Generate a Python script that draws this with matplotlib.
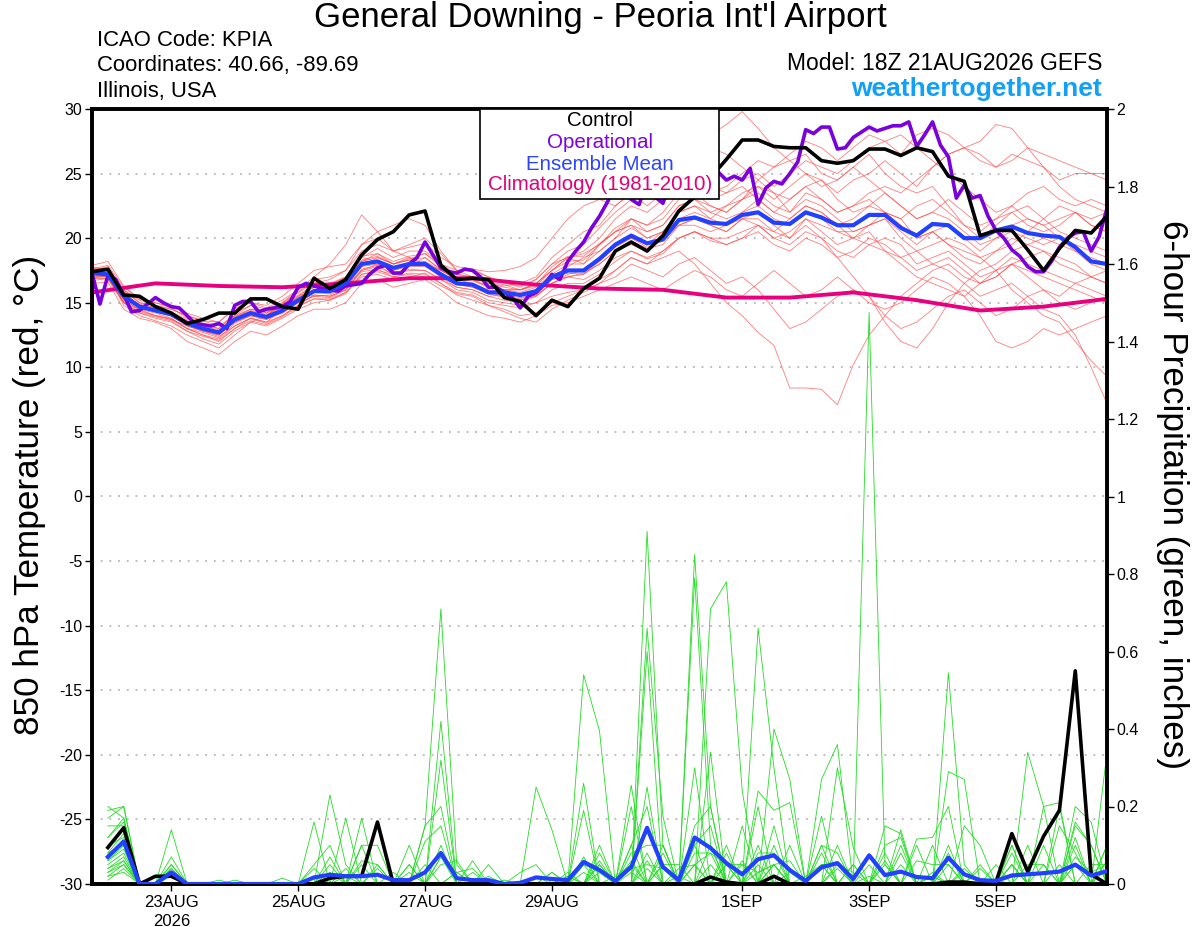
import numpy as np
import matplotlib
matplotlib.use('Agg')
import matplotlib.pyplot as plt
from matplotlib.patches import Rectangle

plt.rcParams['font.family'] = ['Liberation Sans', 'DejaVu Sans']
plt.rcParams['axes.unicode_minus'] = False

# ---------------- data ----------------
run_start = '2026-08-21T18:00'
tick_dates = ['2026-08-23', '2026-08-25', '2026-08-27', '2026-08-29',
              '2026-09-01', '2026-09-03', '2026-09-05']
tick_labels = ['23AUG\n2026', '25AUG', '27AUG', '29AUG', '1SEP', '3SEP', '5SEP']

control_temp = [
    17.4, 17.6, 15.6, 15.5, 14.7, 14.2, 13.4, 13.7, 14.2, 14.2,
    15.3, 15.3, 14.7, 14.5, 16.9, 16.1, 16.8, 18.7, 19.9, 20.5,
    21.8, 22.1, 17.9, 16.8, 16.9, 16.8, 15.4, 15.1, 14.0, 15.2,
    14.7, 16.1, 16.9, 19.0, 19.7, 19.0, 20.2, 22.1, 23.2, 24.7,
    26.1, 27.6, 27.6, 27.1, 27.0, 27.0, 26.0, 25.8, 26.0, 26.9,
    26.9, 26.4, 27.0, 26.7, 24.8, 24.4, 20.2, 20.6, 20.6, 19.1,
    17.5, 19.2, 20.6, 20.4, 21.7]

mean_temp = [
    17.3, 17.2, 15.5, 14.7, 14.4, 14.1, 13.4, 13.0, 12.7, 13.7,
    14.2, 13.9, 14.4, 15.2, 15.9, 15.9, 16.5, 18.0, 18.2, 17.7,
    18.0, 18.0, 17.2, 16.5, 16.4, 15.8, 15.8, 15.6, 15.9, 17.0,
    17.5, 17.5, 18.4, 19.5, 20.2, 19.6, 19.9, 21.4, 21.6, 21.2,
    21.1, 21.8, 22.0, 21.2, 21.1, 22.0, 21.6, 21.0, 21.0, 21.8,
    21.8, 20.8, 20.2, 21.1, 21.0, 20.0, 20.0, 20.6, 20.9, 20.4,
    20.2, 20.1, 19.3, 18.2, 18.0]

# operational run, 3-hourly
operational_temp = [
    17.3, 14.9, 17.1, 16.8, 15.6, 14.3, 14.4, 14.9, 15.4, 15.0,
    14.7, 14.6, 14.0, 13.4, 13.3, 13.2, 13.4, 13.0, 14.8, 15.1,
    15.1, 14.3, 14.5, 14.6, 14.7, 15.1, 16.2, 16.5, 16.3, 16.1,
    16.0, 15.9, 16.3, 16.4, 16.5, 17.2, 17.7, 17.9, 17.3, 17.3,
    18.0, 18.5, 19.7, 18.7, 17.7, 17.4, 17.3, 17.6, 17.5, 17.0,
    16.2, 16.2, 15.8, 15.4, 14.6, 15.5, 15.8, 16.4, 17.2, 16.8,
    18.2, 19.0, 19.7, 20.8, 21.7, 22.8, 24.0, 24.6, 23.0, 22.6,
    24.5, 23.2, 22.7, 24.5, 25.0, 25.5, 25.3, 25.8, 25.5, 25.1,
    24.5, 24.8, 24.5, 25.4, 22.6, 23.9, 24.4, 24.2, 25.0, 25.9,
    28.4, 28.1, 28.6, 28.6, 26.9, 27.0, 27.8, 28.2, 28.6, 28.3,
    28.5, 28.7, 28.7, 29.0, 27.1, 28.0, 29.0, 27.2, 26.3, 23.1,
    24.1, 23.1, 23.3, 21.7, 20.6, 20.0, 19.1, 18.6, 17.8, 17.4,
    17.4, 18.2, 19.3, 20.0, 20.4, 20.5, 19.0, 20.1, 22.3]

# climatology, daily (every 4th 6-h step)
climo_temp = [15.8, 16.5, 16.3, 16.2, 16.5, 16.9, 16.9, 16.4, 16.1,
              16.0, 15.4, 15.4, 15.8, 15.2, 14.4, 14.7, 15.3]

member_temp = [
    [17.5, 17.8, 16.0, 15.0, 14.8, 14.5, 14.0, 13.6, 13.2, 14.0,
     14.8, 14.5, 15.0, 15.8, 16.8, 17.0, 17.5, 19.0, 19.5, 19.0,
     19.3, 19.6, 18.5, 17.8, 17.6, 17.0, 16.6, 16.2, 16.8, 18.0,
     19.0, 19.5, 20.8, 22.0, 23.0, 23.5, 24.5, 26.0, 27.0, 28.0,
     28.8, 29.8, 28.5, 27.0, 26.0, 26.5, 25.0, 24.5, 25.5, 26.5,
     25.0, 24.0, 23.5, 24.0, 22.5, 21.0, 20.5, 21.5, 22.0, 21.0,
     20.5, 21.0, 22.0, 21.5, 22.0],
    [17.0, 16.8, 15.0, 14.2, 13.8, 13.5, 12.8, 12.2, 11.8, 12.8,
     13.5, 13.2, 13.8, 14.5, 15.0, 15.2, 15.8, 17.0, 17.2, 16.8,
     17.0, 17.3, 16.5, 15.6, 15.2, 14.8, 14.5, 14.0, 14.2, 15.0,
     15.5, 16.0, 16.8, 17.5, 18.5, 18.0, 18.5, 19.0, 18.0, 16.5,
     15.0, 14.0, 12.7, 11.7, 8.4, 8.4, 8.3, 7.1, 10.2, 12.5,
     14.0, 15.5, 16.5, 17.5, 18.0, 17.0, 16.5, 17.0, 18.0, 18.5,
     19.0, 18.0, 17.5, 17.0, 16.5],
    [17.8, 17.5, 15.8, 14.8, 14.5, 14.0, 13.2, 12.8, 12.5, 13.5,
     14.0, 13.8, 14.2, 15.0, 15.8, 16.2, 16.5, 18.2, 18.8, 18.0,
     18.5, 18.0, 17.0, 16.2, 16.0, 15.5, 15.6, 15.2, 15.5, 16.5,
     17.0, 17.2, 18.0, 19.0, 19.5, 19.0, 20.0, 21.0, 21.5, 21.0,
     20.5, 21.5, 22.0, 21.0, 20.0, 21.5, 20.5, 19.5, 20.0, 20.5,
     19.0, 18.5, 19.0, 18.0, 17.5, 16.5, 15.5, 16.0, 16.5, 15.5,
     14.5, 14.0, 12.5, 10.0, 7.2],
    [17.2, 17.0, 15.2, 14.5, 14.0, 13.8, 13.0, 12.5, 12.0, 13.0,
     13.8, 13.5, 14.5, 15.5, 16.5, 16.8, 17.5, 19.5, 20.0, 19.0,
     19.5, 20.0, 18.8, 17.5, 17.0, 16.5, 16.2, 16.0, 16.5, 17.5,
     18.5, 18.0, 19.5, 20.5, 21.0, 20.0, 20.5, 22.0, 22.5, 21.5,
     22.5, 23.5, 24.0, 23.0, 24.0, 25.0, 24.5, 23.5, 24.5, 25.0,
     26.0, 25.0, 24.0, 25.5, 26.5, 27.0, 27.5, 28.8, 28.5, 27.0,
     25.5, 24.0, 23.0, 22.5, 22.0],
    [16.8, 17.2, 14.8, 14.0, 13.6, 13.2, 12.5, 12.0, 11.5, 12.5,
     13.5, 14.0, 15.0, 16.0, 17.0, 18.0, 19.5, 21.8, 20.5, 19.0,
     18.5, 18.0, 17.5, 16.8, 16.5, 16.0, 15.8, 15.5, 15.8, 17.0,
     17.8, 18.5, 19.0, 20.0, 21.5, 21.0, 21.5, 23.0, 23.5, 22.5,
     22.0, 23.0, 24.0, 23.5, 22.0, 23.0, 22.5, 21.5, 20.5, 21.0,
     22.0, 21.5, 20.0, 20.5, 19.5, 18.5, 18.0, 19.0, 19.5, 20.5,
     21.5, 22.5, 22.0, 21.0, 20.5],
    [16.5, 16.6, 14.5, 13.8, 13.5, 13.0, 12.0, 11.5, 11.0, 12.0,
     12.8, 12.5, 13.2, 14.0, 14.5, 14.5, 15.0, 16.5, 16.8, 16.2,
     16.5, 16.8, 16.0, 15.0, 14.5, 14.0, 13.8, 13.5, 14.0, 14.8,
     15.0, 15.5, 16.0, 16.5, 17.0, 16.5, 16.0, 16.8, 17.5, 17.0,
     16.0, 15.5, 16.5, 17.5, 16.5, 15.5, 16.0, 17.0, 16.0, 15.0,
     14.5, 15.0, 16.0, 17.0, 16.5, 15.5, 14.0, 12.0, 11.5, 12.0,
     13.0, 12.5, 13.0, 13.5, 14.0],
    [17.6, 17.9, 16.2, 15.3, 15.0, 14.6, 13.8, 13.3, 13.0, 14.2,
     14.8, 14.2, 14.8, 15.6, 16.2, 16.5, 17.0, 18.5, 19.2, 18.5,
     19.0, 19.0, 18.0, 17.2, 17.0, 16.5, 16.3, 16.5, 17.0, 18.5,
     19.5, 20.5, 21.0, 22.5, 23.5, 24.0, 25.0, 26.0, 26.5, 27.0,
     26.5, 25.5, 24.5, 23.5, 23.0, 24.0, 24.5, 23.0, 22.0, 22.5,
     23.5, 22.5, 21.5, 22.0, 21.5, 20.5, 19.5, 20.0, 21.0, 21.5,
     21.0, 20.0, 19.5, 19.0, 18.5],
    [17.0, 17.3, 15.5, 14.6, 14.3, 14.0, 13.5, 13.0, 12.8, 13.8,
     14.3, 14.0, 14.8, 15.5, 16.0, 15.8, 16.3, 17.5, 18.0, 17.5,
     18.0, 18.2, 17.3, 16.6, 16.4, 15.8, 15.5, 15.3, 15.8, 16.8,
     17.0, 16.8, 17.5, 18.5, 19.0, 18.5, 19.0, 20.0, 20.5, 20.0,
     19.5, 20.0, 21.0, 20.5, 21.5, 22.5, 22.0, 21.0, 20.0, 19.5,
     19.0, 18.0, 17.0, 16.5, 16.0, 15.5, 16.5, 17.5, 18.0, 17.0,
     16.0, 15.5, 16.5, 17.0, 17.5],
    [17.3, 17.5, 15.7, 14.8, 14.5, 14.3, 13.7, 13.4, 13.0, 14.0,
     14.5, 14.3, 14.6, 15.2, 15.6, 15.5, 16.0, 17.5, 17.8, 17.2,
     17.8, 18.5, 17.5, 16.8, 16.7, 16.2, 16.0, 16.0, 16.5, 17.5,
     18.5, 19.0, 20.0, 21.5, 22.5, 22.0, 23.0, 25.0, 24.5, 23.5,
     24.0, 25.0, 26.0, 25.5, 26.5, 27.5, 27.0, 26.0, 27.0, 28.0,
     27.5, 28.0, 27.0, 26.0, 25.0, 24.0, 23.0, 22.0, 22.5, 23.5,
     24.0, 23.0, 22.5, 23.0, 22.5],
    [17.5, 17.0, 15.0, 14.5, 14.2, 13.8, 13.0, 12.7, 12.3, 13.4,
     14.0, 13.7, 14.3, 15.0, 15.5, 15.6, 16.2, 17.8, 18.5, 18.0,
     18.3, 18.0, 17.0, 16.5, 16.2, 15.8, 15.6, 15.4, 15.6, 16.5,
     17.2, 17.5, 18.5, 19.5, 20.0, 19.5, 20.5, 21.5, 22.0, 21.5,
     21.0, 22.0, 23.0, 22.0, 21.5, 22.5, 22.0, 21.0, 21.5, 22.5,
     22.0, 21.0, 20.0, 20.5, 19.5, 19.0, 18.5, 17.5, 16.0, 15.0,
     14.0, 13.5, 12.0, 10.5, 9.3],
    [17.7, 17.6, 16.0, 15.2, 14.8, 14.5, 14.0, 13.6, 13.5, 14.6,
     15.0, 14.8, 15.5, 16.5, 17.5, 17.8, 18.0, 19.5, 20.5, 21.0,
     21.5, 21.0, 19.0, 17.5, 17.5, 17.0, 16.5, 16.3, 16.8, 18.0,
     18.5, 18.8, 19.5, 20.5, 21.5, 20.5, 21.0, 22.5, 23.0, 22.0,
     21.5, 22.0, 22.5, 21.5, 21.0, 22.0, 21.5, 20.5, 20.5, 21.0,
     21.5, 20.5, 19.5, 20.5, 21.0, 20.0, 19.0, 20.0, 20.5, 20.0,
     19.5, 20.0, 19.0, 18.0, 17.5],
    [16.9, 16.9, 15.1, 14.3, 14.0, 13.7, 13.0, 12.5, 12.2, 13.2,
     13.8, 13.5, 14.0, 14.8, 15.3, 15.3, 15.8, 17.2, 17.5, 17.2,
     17.6, 17.5, 16.8, 16.0, 15.8, 15.2, 15.0, 14.8, 15.0, 15.5,
     15.8, 16.0, 16.5, 17.0, 18.0, 17.5, 17.0, 18.0, 18.5, 17.5,
     16.5, 17.0, 16.0, 14.5, 13.0, 13.5, 14.5, 15.5, 16.0, 15.5,
     14.0, 13.0, 13.5, 14.5, 15.5, 16.0, 15.0, 14.0, 14.5, 15.5,
     16.0, 15.0, 14.5, 15.0, 15.5],
    [17.4, 17.6, 15.9, 15.0, 14.6, 14.2, 13.6, 13.0, 12.6, 13.6,
     14.2, 14.0, 14.6, 15.3, 16.0, 16.0, 16.6, 18.2, 18.5, 18.0,
     18.3, 18.5, 17.6, 17.0, 16.8, 16.3, 16.0, 15.8, 16.2, 17.2,
     18.0, 18.0, 19.0, 20.0, 20.8, 20.0, 20.5, 22.0, 22.5, 22.0,
     22.5, 23.0, 23.5, 22.5, 22.0, 23.5, 23.0, 22.0, 22.5, 23.5,
     24.0, 23.5, 24.5, 25.5, 26.5, 27.0, 26.0, 25.5, 26.5, 26.0,
     25.5, 24.5, 25.0, 25.0, 24.5],
    [17.1, 17.0, 15.3, 14.4, 14.0, 13.7, 13.2, 12.8, 12.4, 13.2,
     13.8, 13.4, 14.0, 14.8, 15.6, 15.5, 16.0, 17.6, 17.9, 17.2,
     17.5, 17.5, 16.8, 16.2, 16.0, 15.5, 15.2, 15.0, 15.5, 16.5,
     17.0, 17.3, 18.0, 19.0, 19.8, 19.2, 19.5, 21.0, 21.0, 20.5,
     21.0, 21.5, 21.0, 20.0, 20.5, 21.5, 21.0, 20.5, 20.0, 21.0,
     21.5, 20.0, 19.0, 19.5, 20.0, 19.5, 18.5, 19.0, 20.0, 19.5,
     19.0, 18.5, 18.0, 17.0, 16.5],
    [17.6, 17.4, 15.6, 14.9, 14.6, 14.2, 13.4, 13.0, 12.8, 13.9,
     14.5, 14.2, 14.9, 15.8, 16.5, 16.4, 17.0, 18.6, 18.8, 18.2,
     18.6, 18.8, 17.8, 17.2, 17.0, 16.6, 16.4, 16.0, 16.3, 17.5,
     18.2, 18.3, 19.5, 20.8, 21.5, 21.0, 22.0, 23.5, 24.0, 23.0,
     23.5, 24.5, 25.0, 24.0, 25.0, 26.0, 25.5, 25.0, 26.0, 27.0,
     27.5, 26.5, 28.0, 28.5, 28.0, 27.0, 26.5, 25.5, 26.0, 27.0,
     26.5, 26.0, 25.5, 25.0, 25.0],
    [17.0, 17.1, 15.4, 14.6, 14.3, 14.0, 13.3, 12.8, 12.6, 13.5,
     14.0, 13.7, 14.2, 15.0, 15.5, 15.4, 16.0, 17.4, 17.6, 17.0,
     17.2, 17.0, 16.3, 15.7, 15.5, 14.8, 14.3, 13.8, 13.5, 14.5,
     15.2, 15.8, 16.5, 17.5, 18.5, 18.0, 19.0, 20.0, 20.5, 20.0,
     20.0, 20.5, 21.0, 20.0, 19.5, 20.5, 20.0, 19.0, 18.5, 19.5,
     20.0, 19.5, 18.0, 18.5, 19.0, 18.0, 17.0, 17.5, 18.5, 18.0,
     17.5, 17.0, 16.5, 16.0, 15.5],
    [17.3, 17.4, 15.6, 14.8, 14.4, 14.2, 13.6, 13.2, 12.9, 13.9,
     14.4, 14.1, 14.7, 15.4, 16.2, 16.1, 16.8, 18.3, 18.6, 18.0,
     18.4, 18.8, 18.0, 17.5, 17.6, 17.4, 17.5, 17.8, 18.5, 20.0,
     21.5, 22.5, 23.0, 22.5, 23.5, 22.5, 23.5, 24.5, 25.0, 24.0,
     23.5, 24.0, 23.0, 22.0, 23.0, 24.0, 23.0, 22.0, 22.5, 23.0,
     22.0, 21.5, 22.5, 23.0, 22.0, 21.0, 20.0, 21.0, 22.0, 22.5,
     21.5, 20.5, 20.0, 19.5, 19.0],
    [17.2, 17.3, 15.5, 14.7, 14.4, 14.0, 13.4, 12.9, 12.5, 13.6,
     14.2, 13.9, 14.5, 15.2, 15.8, 15.7, 16.3, 17.8, 18.0, 17.5,
     17.8, 17.8, 17.0, 16.4, 16.2, 15.7, 15.4, 15.2, 15.6, 16.8,
     17.3, 17.2, 18.2, 19.3, 20.0, 19.3, 19.8, 21.0, 21.5, 21.0,
     20.5, 21.5, 21.5, 20.5, 20.0, 21.0, 20.0, 18.5, 17.0, 15.5,
     13.5, 12.0, 11.5, 13.0, 15.0, 16.5, 17.5, 18.0, 19.0, 19.5,
     20.0, 19.5, 19.0, 18.5, 18.0],
    [17.9, 18.2, 16.3, 15.3, 15.0, 14.7, 14.2, 13.8, 13.5, 14.5,
     15.0, 14.6, 15.2, 16.0, 16.6, 16.4, 16.9, 18.5, 18.2, 17.8,
     18.0, 18.2, 17.5, 16.9, 16.8, 16.2, 16.0, 16.0, 16.4, 17.8,
     18.6, 18.6, 19.6, 20.5, 21.0, 20.5, 21.0, 22.5, 23.0, 22.5,
     22.0, 23.0, 24.5, 25.5, 26.0, 25.0, 24.0, 24.5, 25.5, 24.5,
     23.5, 22.5, 21.5, 22.0, 23.0, 22.0, 21.0, 21.5, 22.5, 21.5,
     21.0, 21.5, 22.0, 21.0, 20.5],
    [16.7, 16.9, 15.0, 14.2, 13.9, 13.6, 12.8, 12.4, 12.1, 13.0,
     13.6, 13.3, 13.9, 14.7, 15.3, 15.2, 15.7, 17.2, 17.4, 17.0,
     17.3, 17.2, 16.5, 15.8, 15.6, 15.0, 14.8, 14.6, 15.0, 16.0,
     16.5, 16.5, 17.2, 18.2, 19.0, 18.4, 18.8, 20.0, 20.5, 19.8,
     19.5, 20.0, 20.5, 19.5, 19.0, 20.0, 19.5, 18.5, 19.0, 20.0,
     19.5, 18.5, 17.5, 18.0, 18.5, 17.5, 16.5, 17.0, 18.0, 17.5,
     17.0, 16.5, 16.0, 15.5, 15.0],
]

# 6-hour precipitation (inches), valid at steps 1..64
control_precip = [
    0.094, 0.145, 0.0, 0.02, 0.02, 0.0, 0.0, 0.0, 0.0, 0.0,
    0.0, 0.0, 0.0, 0.0, 0.015, 0.02, 0.02, 0.16, 0.0, 0.0,
    0.0, 0.0, 0.0, 0.0, 0.0, 0.0, 0.0, 0.0, 0.0, 0.0,
    0.0, 0.0, 0.0, 0.0, 0.0, 0.0, 0.0, 0.0, 0.018, 0.005,
    0.0, 0.0, 0.02, 0.0, 0.0, 0.0, 0.0, 0.0, 0.0, 0.0,
    0.0, 0.0, 0.0, 0.005, 0.005, 0.0, 0.005, 0.13, 0.032, 0.123,
    0.19, 0.55, 0.025, 0.0]

mean_precip = [
    0.07, 0.11, 0.0, 0.0, 0.03, 0.0, 0.0, 0.0, 0.0, 0.0,
    0.0, 0.0, 0.0, 0.017, 0.024, 0.02, 0.02, 0.024, 0.01, 0.01,
    0.03, 0.08, 0.015, 0.01, 0.01, 0.0, 0.003, 0.017, 0.013, 0.01,
    0.057, 0.036, 0.008, 0.044, 0.145, 0.044, 0.01, 0.12, 0.093, 0.054,
    0.025, 0.064, 0.074, 0.036, 0.008, 0.043, 0.054, 0.013, 0.074, 0.023,
    0.032, 0.018, 0.015, 0.068, 0.025, 0.01, 0.008, 0.022, 0.025, 0.028,
    0.032, 0.05, 0.022, 0.033]

# ensemble members: {step: inches}, all other steps dry
member_precip = [
    {1: 0.20, 2: 0.17, 5: 0.14, 21: 0.15, 22: 0.71, 23: 0.05, 35: 0.91, 36: 0.10, 49: 1.475, 50: 0.05},
    {1: 0.19, 2: 0.20, 15: 0.23, 16: 0.05, 22: 0.42, 38: 0.85, 39: 0.20, 54: 0.545, 55: 0.05},
    {1: 0.15, 2: 0.15, 5: 0.07, 14: 0.16, 22: 0.32, 31: 0.54, 32: 0.395, 38: 0.79, 39: 0.10, 42: 0.20},
    {1: 0.12, 2: 0.17, 17: 0.17, 28: 0.25, 29: 0.14, 35: 0.66, 36: 0.175, 43: 0.40, 44: 0.27, 59: 0.34, 60: 0.20},
    {1: 0.10, 2: 0.12, 16: 0.17, 21: 0.11, 22: 0.15, 35: 0.60, 39: 0.71, 40: 0.78, 41: 0.24, 46: 0.27, 47: 0.36},
    {1: 0.08, 2: 0.10, 5: 0.05, 31: 0.26, 34: 0.255, 42: 0.66, 43: 0.30, 47: 0.30, 48: 0.094, 62: 0.20, 63: 0.16},
    {1: 0.06, 2: 0.10, 20: 0.10, 31: 0.19, 34: 0.20, 39: 0.34, 46: 0.175, 54: 0.29, 55: 0.27, 64: 0.34},
    {1: 0.05, 2: 0.08, 14: 0.05, 15: 0.10, 22: 0.10, 35: 0.25, 38: 0.30, 42: 0.24, 43: 0.19, 44: 0.21,
     51: 0.14, 60: 0.20, 61: 0.21},
    {1: 0.04, 2: 0.07, 17: 0.10, 18: 0.10, 22: 0.07, 32: 0.10, 36: 0.10, 38: 0.15, 39: 0.20, 46: 0.10,
     50: 0.15, 51: 0.13, 62: 0.16, 63: 0.10},
    {1: 0.03, 2: 0.06, 5: 0.04, 15: 0.07, 21: 0.05, 24: 0.06, 31: 0.07, 34: 0.10, 35: 0.20, 43: 0.15,
     47: 0.10, 52: 0.116, 53: 0.12, 54: 0.20, 61: 0.20},
    {1: 0.02, 2: 0.05, 17: 0.06, 18: 0.05, 22: 0.05, 23: 0.06, 25: 0.05, 32: 0.08, 34: 0.10, 38: 0.10,
     39: 0.15, 42: 0.10, 50: 0.10, 51: 0.12, 58: 0.10, 62: 0.15, 63: 0.10},
    {1: 0.01, 2: 0.04, 5: 0.03, 16: 0.02, 20: 0.05, 23: 0.03, 24: 0.04, 29: 0.03, 31: 0.05, 34: 0.08,
     35: 0.10, 36: 0.10, 40: 0.10, 43: 0.10, 46: 0.10, 47: 0.08, 54: 0.10, 58: 0.08, 62: 0.12, 64: 0.10},
    {1: 0.02, 2: 0.03, 9: 0.01, 14: 0.02, 19: 0.03, 27: 0.03, 28: 0.05, 32: 0.06, 35: 0.08, 38: 0.08,
     39: 0.08, 41: 0.15, 44: 0.10, 50: 0.08, 53: 0.10, 55: 0.15, 56: 0.10, 60: 0.10, 64: 0.10},
    {1: 0.03, 2: 0.05, 12: 0.015, 17: 0.05, 30: 0.03, 32: 0.05, 34: 0.06, 36: 0.08, 38: 0.05, 40: 0.08,
     42: 0.08, 43: 0.08, 47: 0.05, 51: 0.10, 54: 0.08, 58: 0.10, 62: 0.10, 64: 0.06},
    {1: 0.04, 2: 0.06, 8: 0.01, 18: 0.04, 24: 0.03, 30: 0.02, 33: 0.02, 34: 0.05, 36: 0.05, 37: 0.05,
     39: 0.10, 41: 0.06, 43: 0.05, 46: 0.08, 49: 0.05, 52: 0.10, 54: 0.05, 57: 0.05, 59: 0.10, 63: 0.05, 64: 0.05},
    {1: 0.06, 2: 0.09, 5: 0.02, 15: 0.03, 23: 0.03, 31: 0.05, 32: 0.03, 35: 0.04, 37: 0.04, 38: 0.05,
     40: 0.05, 42: 0.03, 43: 0.05, 44: 0.06, 47: 0.04, 50: 0.06, 52: 0.06, 53: 0.05, 54: 0.05, 56: 0.05,
     58: 0.05, 61: 0.15, 62: 0.08},
    {1: 0.08, 2: 0.13, 16: 0.04, 20: 0.03, 26: 0.01, 28: 0.02, 36: 0.05, 38: 0.05, 39: 0.08, 40: 0.05,
     41: 0.05, 45: 0.02, 46: 0.05, 48: 0.05, 51: 0.08, 53: 0.03, 55: 0.04, 57: 0.01, 59: 0.05, 60: 0.05,
     62: 0.07, 63: 0.03, 64: 0.05},
    {1: 0.10, 2: 0.14, 5: 0.05, 15: 0.05, 21: 0.15, 22: 0.20, 30: 0.02, 32: 0.03, 34: 0.03, 37: 0.02,
     40: 0.05, 43: 0.05, 46: 0.05, 48: 0.05, 50: 0.05, 53: 0.02, 56: 0.04, 58: 0.05, 61: 0.05, 64: 0.04},
    {1: 0.12, 2: 0.16, 14: 0.04, 17: 0.10, 25: 0.02, 29: 0.03, 31: 0.03, 34: 0.04, 35: 0.05, 36: 0.04,
     38: 0.10, 41: 0.05, 42: 0.03, 43: 0.05, 46: 0.05, 47: 0.05, 48: 0.03, 51: 0.05, 55: 0.03, 60: 0.05, 62: 0.05},
    {1: 0.17, 2: 0.20, 5: 0.04, 18: 0.05, 20: 0.05, 22: 0.07, 23: 0.03, 32: 0.05, 35: 0.06, 39: 0.05,
     42: 0.05, 44: 0.03, 46: 0.05, 47: 0.05, 49: 0.02, 53: 0.02, 56: 0.01, 58: 0.05, 62: 0.05, 63: 0.03},
]

# ---------------- times ----------------
t0 = np.datetime64(run_start)
times6 = t0 + np.arange(len(control_temp)) * np.timedelta64(6, 'h')
times3 = t0 + np.arange(len(operational_temp)) * np.timedelta64(3, 'h')
times_climo = times6[::4]
times_precip = times6[1:]
for m in member_temp:
    assert len(m) == len(times6), len(m)
assert len(mean_temp) == len(times6)
assert len(control_precip) == len(times_precip) and len(mean_precip) == len(times_precip)
assert len(climo_temp) == len(times_climo)

# ---------------- figure ----------------
W, H = 1200, 927
fig = plt.figure(figsize=(W / 100, H / 100), dpi=100)
L, R, T, B = 92, 1107, 109, 884
ax = fig.add_axes([L / W, 1 - B / H, (R - L) / W, (B - T) / H])
ax2 = ax.twinx()

ax.set_xlim(times6[0], times6[-1])
ax.set_ylim(-30, 30)
ax2.set_ylim(0, 2)

# dotted grid
for v in range(-25, 30, 5):
    ax.axhline(v, color='#aaaaaa', lw=1.1, ls=(0, (1.2, 4.5)), zorder=0)

# temperature
for m in member_temp:
    ax.plot(times6, m, color='#ff4646', lw=0.6, alpha=0.7, zorder=2)
ax.plot(times_climo, climo_temp, color='#e8007e', lw=2.8, zorder=3)
ax.plot(times3, operational_temp, color='#7a00dc', lw=2.6, zorder=4)
ax.plot(times6, mean_temp, color='#2240ff', lw=3.0, zorder=5)
ax.plot(times6, control_temp, color='black', lw=2.6, zorder=6)

# precipitation
for d in member_precip:
    vals = np.zeros(len(times_precip))
    for k, v in d.items():
        vals[k - 1] = v
    ax2.plot(times_precip, vals, color='#22dd22', lw=0.6, zorder=2)
ax2.plot(times_precip, control_precip, color='black', lw=2.6, zorder=4)
ax2.plot(times_precip, mean_precip, color='#2240ff', lw=3.0, zorder=5)

# axes styling
for a in (ax, ax2):
    for s in a.spines.values():
        s.set_linewidth(2.6)
        s.set_color('black')
ax.set_yticks(range(-30, 31, 5))
ax.set_yticklabels([str(v) for v in range(-30, 31, 5)])
ax2.set_yticks(np.arange(0, 2.01, 0.2))
ax2.set_yticklabels(['0', '0.2', '0.4', '0.6', '0.8', '1', '1.2', '1.4', '1.6', '1.8', '2'])
ax.set_xticks([np.datetime64(d + 'T00:00') for d in tick_dates])
ax.set_xticklabels(tick_labels, linespacing=1.3)
ax.tick_params(axis='y', direction='out', length=5, width=1, labelsize=11.5, pad=2)
ax2.tick_params(axis='y', direction='out', length=5, width=1, labelsize=11.5, pad=2)
ax.tick_params(axis='x', direction='out', length=5, width=1, labelsize=12, pad=3)

# labels
fig.text(30 / W, 1 - 495 / H, '850 hPa Temperature (red, \u00b0C)', rotation=90,
         ha='center', va='center', fontsize=25.3)
fig.text(1172 / W, 1 - 495 / H, '6-hour Precipitation (green, inches)', rotation=270,
         ha='center', va='center', fontsize=25.3)

# header
fig.text(0.5, 1 - 18 / H, "General Downing - Peoria Int'l Airport", ha='center', va='center', fontsize=25)
fig.text(97 / W, 1 - 40 / H, 'ICAO Code: KPIA', ha='left', va='center', fontsize=15.9)
fig.text(97 / W, 1 - 66 / H, 'Coordinates: 40.66, -89.69', ha='left', va='center', fontsize=15.9)
fig.text(97 / W, 1 - 92 / H, 'Illinois, USA', ha='left', va='center', fontsize=15.9)
fig.text(1102 / W, 1 - 63 / H, 'Model: 18Z 21AUG2026 GEFS', ha='right', va='center', fontsize=16.5)
fig.text(1102 / W, 1 - 89 / H, 'weathertogether.net', ha='right', va='center', fontsize=19,
         fontweight='bold', color='#12a0f5')

# legend box
fig.patches.append(Rectangle((480 / W, 1 - 199 / H), 239 / W, 90 / H, transform=fig.transFigure,
                             facecolor='white', edgecolor='black', lw=1.2, zorder=10))
leg_items = [('Control', 'black', 121), ('Operational', '#8000e0', 142),
             ('Ensemble Mean', '#2b45ff', 164), ('Climatology (1981-2010)', '#e0007a', 185)]
for txt, col, yy in leg_items:
    fig.text(600 / W, 1 - yy / H, txt, color=col, ha='center', va='center', fontsize=14.8, zorder=11)

fig.savefig('out.png', dpi=100)
